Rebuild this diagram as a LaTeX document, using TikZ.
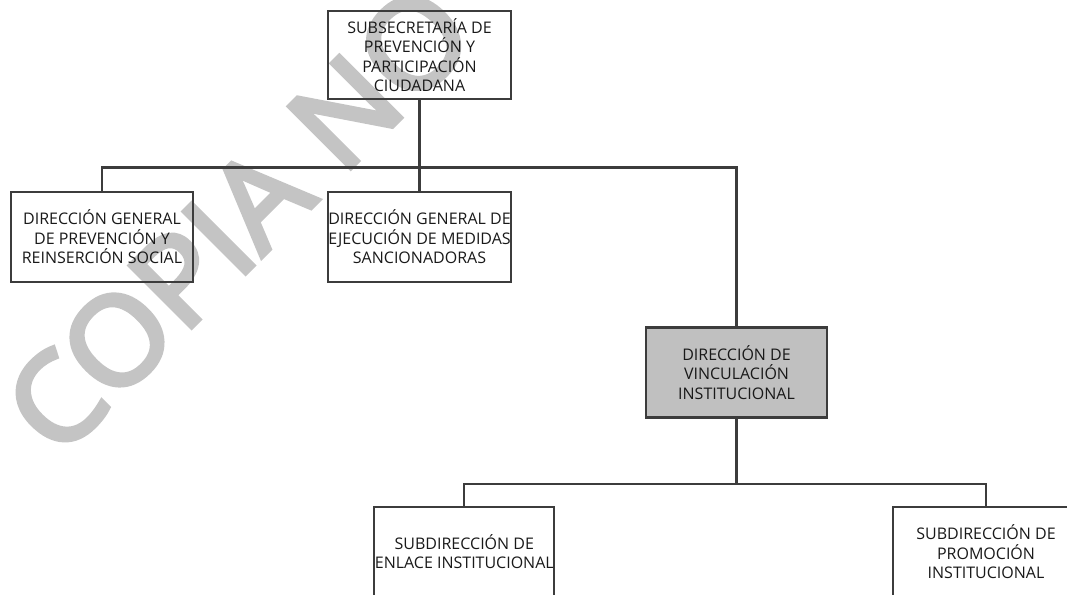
\documentclass[tikz,border=0pt]{standalone}
\usepackage{fontspec}
\setmainfont{Open Sans}
\newfontfamily\stampfont{Open Sans}[FakeBold=4]
\definecolor{edge}{HTML}{3C3C3C}
\definecolor{wmark}{HTML}{C4C4C4}
\definecolor{hilite}{HTML}{C0C0C0}
\tikzset{
  unit/.style={draw=edge, line width=2.2pt, rectangle, inner sep=0pt,
    align=center, text=black!90, font=\fontsize{16}{19.3}\selectfont},
  link/.style={draw=edge, line width=2.2pt}
}
\begin{document}
\begin{tikzpicture}[x=1pt,y=-1pt]
\useasboundingbox (0,0) rectangle (1067,594);
% watermark
\node[rotate=45, xscale=1.04, text=wmark, font=\stampfont\fontsize{122}{122}\selectfont, inner sep=0pt] (wm) at (238,219) {COPIA NO};
% units
\node[unit, minimum width=183pt, minimum height=88pt] (sub) at (419.5,55)
  {SUBSECRETARÍA DE\\PREVENCIÓN Y\\PARTICIPACIÓN\\CIUDADANA};
\node[unit, minimum width=182pt, minimum height=90pt] (dgp) at (102,236.7)
  {DIRECCIÓN GENERAL\\DE PREVENCIÓN Y\\REINSERCIÓN SOCIAL};
\node[unit, minimum width=183pt, minimum height=90pt] (dge) at (419.5,236.7)
  {DIRECCIÓN GENERAL DE\\EJECUCIÓN DE MEDIDAS\\SANCIONADORAS};
\node[unit, fill=hilite, minimum width=181pt, minimum height=90pt] (dvi) at (736.5,372.5)
  {DIRECCIÓN DE\\VINCULACIÓN\\INSTITUCIONAL};
\node[unit, minimum width=180pt, minimum height=90pt] (sei) at (464.3,551.7)
  {SUBDIRECCIÓN DE\\ENLACE INSTITUCIONAL};
\node[unit, minimum width=186pt, minimum height=90pt] (spi) at (986,551.7)
  {SUBDIRECCIÓN DE\\PROMOCIÓN\\INSTITUCIONAL};
% connectors
\coordinate (j1) at (419.5,167.5);
\coordinate (j2) at (736.5,484.3);
\draw[link] (sub.south) -- (dge.north);
\draw[link] (dgp.north) |- (j1) -| (dvi.north);
\draw[link] (dvi.south) -- (j2);
\draw[link] (sei.north) |- (j2) -| (spi.north);
\end{tikzpicture}
\end{document}
